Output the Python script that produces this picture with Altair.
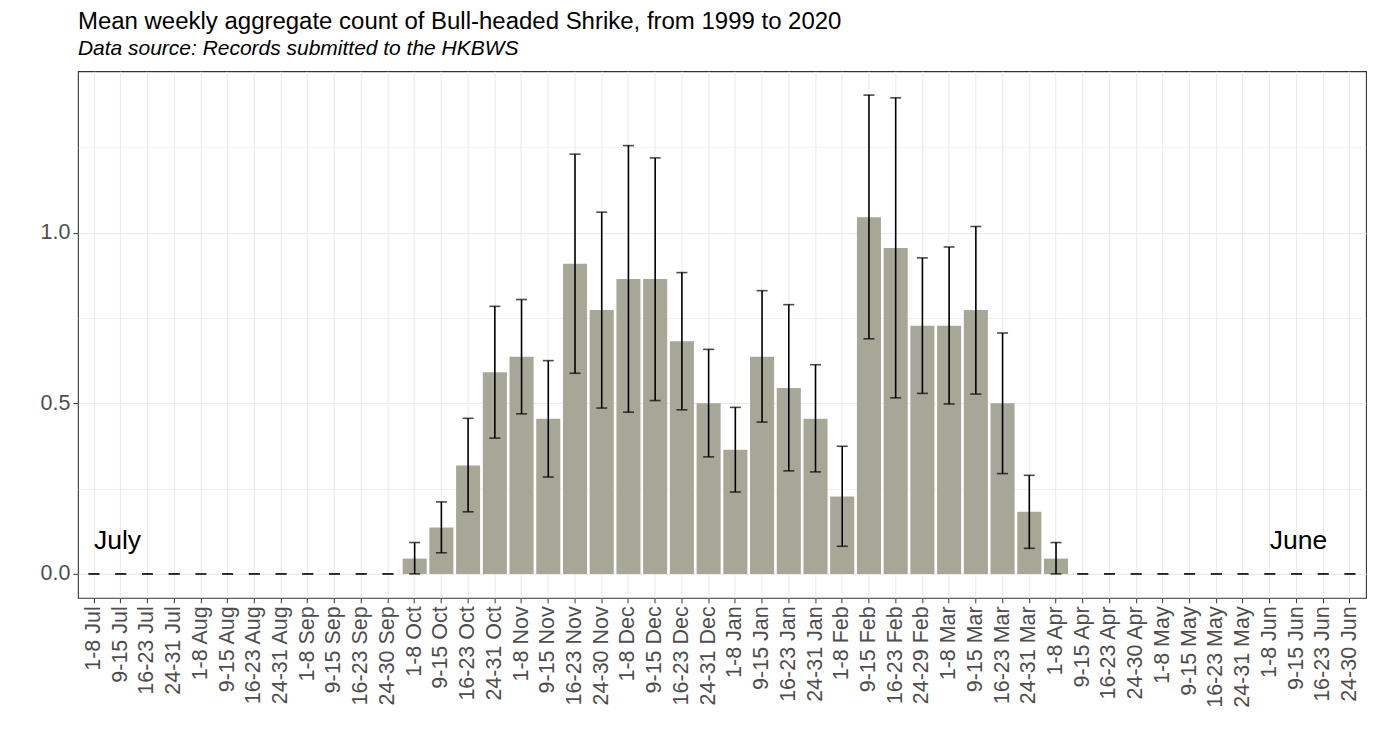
import altair as alt
import pandas as pd

categories = [
    "1-8 Jul", "9-15 Jul", "16-23 Jul", "24-31 Jul",
    "1-8 Aug", "9-15 Aug", "16-23 Aug", "24-31 Aug",
    "1-8 Sep", "9-15 Sep", "16-23 Sep", "24-30 Sep",
    "1-8 Oct", "9-15 Oct", "16-23 Oct", "24-31 Oct",
    "1-8 Nov", "9-15 Nov", "16-23 Nov", "24-30 Nov",
    "1-8 Dec", "9-15 Dec", "16-23 Dec", "24-31 Dec",
    "1-8 Jan", "9-15 Jan", "16-23 Jan", "24-31 Jan",
    "1-8 Feb", "9-15 Feb", "16-23 Feb", "24-29 Feb",
    "1-8 Mar", "9-15 Mar", "16-23 Mar", "24-31 Mar",
    "1-8 Apr", "9-15 Apr", "16-23 Apr", "24-30 Apr",
    "1-8 May", "9-15 May", "16-23 May", "24-31 May",
    "1-8 Jun", "9-15 Jun", "16-23 Jun", "24-30 Jun",
]

mean_count = [
    0, 0, 0, 0, 0, 0, 0, 0, 0, 0, 0, 0,
    0.045, 0.136, 0.318, 0.591,
    0.636, 0.455, 0.909, 0.773,
    0.864, 0.864, 0.682, 0.500,
    0.364, 0.636, 0.545, 0.455,
    0.227, 1.045, 0.955, 0.727,
    0.727, 0.773, 0.500, 0.182,
    0.045, 0, 0, 0,
    0, 0, 0, 0,
    0, 0, 0, 0,
]

lower_err = [
    0, 0, 0, 0, 0, 0, 0, 0, 0, 0, 0, 0,
    0.0, 0.062, 0.182, 0.398,
    0.469, 0.284, 0.588, 0.486,
    0.474, 0.508, 0.481, 0.343,
    0.240, 0.445, 0.302, 0.299,
    0.081, 0.689, 0.516, 0.529,
    0.498, 0.527, 0.294, 0.075,
    0.0, 0, 0, 0,
    0, 0, 0, 0,
    0, 0, 0, 0,
]

upper_err = [
    0, 0, 0, 0, 0, 0, 0, 0, 0, 0, 0, 0,
    0.092, 0.211, 0.456, 0.784,
    0.804, 0.625, 1.230, 1.060,
    1.255, 1.219, 0.883, 0.658,
    0.488, 0.830, 0.789, 0.613,
    0.374, 1.403, 1.395, 0.926,
    0.958, 1.018, 0.706, 0.289,
    0.092, 0, 0, 0,
    0, 0, 0, 0,
    0, 0, 0, 0,
]

annot_labels = ["July", "June"]
annot_cats = ["1-8 Jul", "1-8 Jun"]
annot_y = [0.074, 0.074]

df = pd.DataFrame({"week": categories, "mean": mean_count,
                   "lo": lower_err, "hi": upper_err})
ann = pd.DataFrame({"label": annot_labels, "week": annot_cats, "y": annot_y})

FONT = "Liberation Sans"
LABEL_SIZE = 21.5

xscale = alt.Scale(domain=categories, paddingInner=0.1, paddingOuter=0.15)
yscale = alt.Scale(domain=[-0.070, 1.473], nice=False, zero=False)

x_enc = alt.X("week:N", scale=xscale, sort=categories, title=None,
              axis=alt.Axis(labelAngle=-90, labelFontSize=LABEL_SIZE, labelColor="#4D4D4D",
                            labelFont=FONT, tickColor="#333333", tickSize=5,
                            labelPadding=3, domain=False, gridColor="#EBEBEB",
                            gridWidth=1.1, grid=True))

y_axis = alt.Axis(
    values=[0, 0.25, 0.5, 0.75, 1.0, 1.25],
    labelExpr="datum.value % 0.5 === 0 ? format(datum.value, '.1f') : ''",
    tickOpacity={"condition": {"test": "datum.value % 0.5 !== 0", "value": 0}, "value": 1},
    gridWidth={"condition": {"test": "datum.value % 0.5 !== 0", "value": 0.7}, "value": 1.1},
    gridColor="#EBEBEB", tickColor="#333333", tickSize=5, labelFontSize=LABEL_SIZE,
    labelColor="#4D4D4D", labelFont=FONT, domain=False, labelPadding=3, grid=True,
)

bars = alt.Chart(df).mark_bar(color="#A6A797").encode(
    x=x_enc,
    y=alt.Y("mean:Q", scale=yscale, axis=y_axis, title=None),
)

rules = alt.Chart(df).mark_rule(color="black", strokeWidth=1.6).encode(
    x=alt.X("week:N", sort=categories),
    y="lo:Q",
    y2="hi:Q",
)

cap_lo = alt.Chart(df).mark_tick(color="black", size=11, thickness=1.6).encode(
    x=alt.X("week:N", sort=categories),
    y="lo:Q",
)

cap_hi = alt.Chart(df).mark_tick(color="black", size=11, thickness=1.6).encode(
    x=alt.X("week:N", sort=categories),
    y="hi:Q",
)

text = alt.Chart(ann).mark_text(align="left", baseline="alphabetic", fontSize=26.5,
                                font=FONT, color="black").encode(
    x=alt.X("week:N", sort=categories),
    y="y:Q",
    text="label:N",
)

chart = alt.layer(bars, rules, cap_lo, cap_hi, text).properties(
    width=1289,
    height=527,
    title=alt.TitleParams(
        text="Mean weekly aggregate count of Bull-headed Shrike, from 1999 to 2020",
        subtitle="Data source: Records submitted to the HKBWS",
        anchor="start",
        frame="group",
        font=FONT,
        fontSize=24,
        fontWeight="normal",
        color="black",
        subtitleFont=FONT,
        subtitleFontSize=21,
        subtitleFontStyle="italic",
        subtitleColor="black",
        subtitlePadding=4,
        offset=12,
    ),
    padding={"left": 32, "top": 2, "right": 3, "bottom": 5},
    background="white",
).configure_view(stroke="#333333", strokeWidth=1.1)

chart.save("out.html", embed_options={"renderer": "svg", "actions": False})
